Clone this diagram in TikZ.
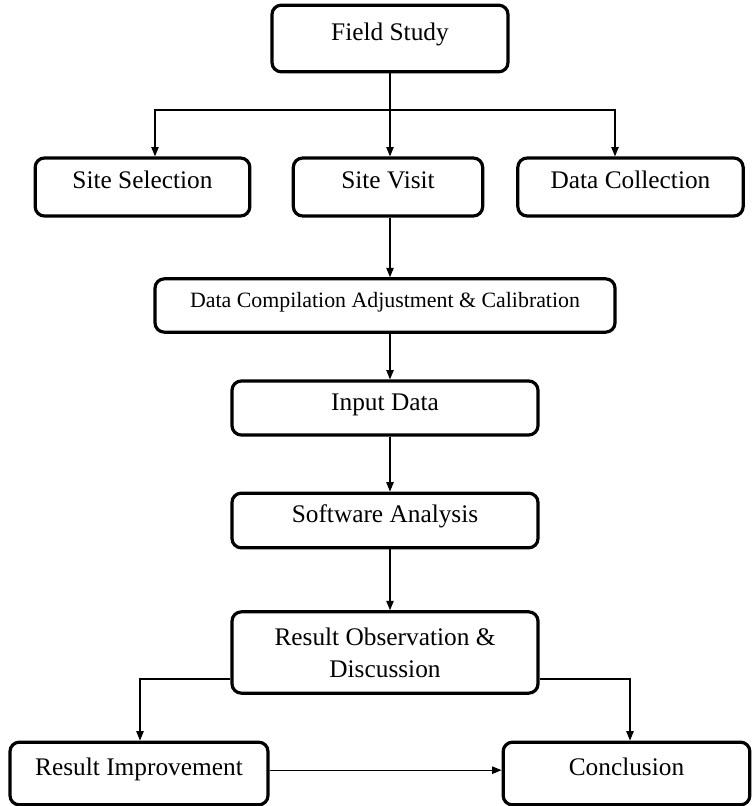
\documentclass[tikz,border=0pt]{standalone}
\usepackage{fontspec}
\setmainfont{Liberation Serif}
\usetikzlibrary{arrows.meta,calc}

\begin{document}
\begin{tikzpicture}[x=0.75pt,y=-0.75pt]

    \tikzset{
      stepbox/.style={
        draw,
        line width=2.4pt,
        rounded corners=7pt,
        inner sep=0pt,
        align=center,
        font=\fontsize{19}{24}\selectfont,
      },
      oneline/.style={
        text height=0.72em,
        text depth=0.42em,
      },
      arr/.style={
        line width=0.9pt,
        -{Triangle[length=7pt,width=5.5pt]},
      },
    }
    \useasboundingbox (0,0) rectangle (753,806);

    \node[stepbox,oneline,minimum width=177pt,minimum height=50pt] (study) at (390,38.5) {Field Study};
    \node[stepbox,oneline,minimum width=161pt,minimum height=43.5pt] (select) at (142.5,187) {Site Selection};
    \node[stepbox,oneline,minimum width=142pt,minimum height=43.5pt] (visit) at (388,187) {Site Visit};
    \node[stepbox,oneline,minimum width=169pt,minimum height=43.5pt] (collect) at (630.5,187) {Data Collection};
    \node[stepbox,oneline,minimum width=345pt,minimum height=40pt,font=\fontsize{16.4}{20}\selectfont] (compile) at (385,305.5) {Data Compilation Adjustment \& Calibration};
    \node[stepbox,oneline,minimum width=229.5pt,minimum height=40.5pt] (input) at (385,408) {Input Data};
    \node[stepbox,oneline,minimum width=229.5pt,minimum height=41pt] (soft) at (385,520.5) {Software Analysis};
    \node[stepbox,minimum width=229.5pt,minimum height=61pt] (result) at (385,652.5) {Result Observation \&\\Discussion};
    \node[stepbox,oneline,minimum width=193.5pt,minimum height=47pt] (improve) at (139,773.5) {Result Improvement};
    \node[stepbox,oneline,minimum width=185pt,minimum height=47pt] (concl) at (626.5,773.5) {Conclusion};

    % main spine and the three-way fork
    \coordinate (spine) at (390,0);
    \coordinate (fork) at (390,110);
    \draw[arr] (study.south -| spine) -- (visit.north -| spine);
    \draw[arr] (fork) -| ($(select.north)+(12.5,0)$);
    \draw[arr] (fork) -| ($(collect.north)+(-15.5,0)$);

    \draw[arr] (visit.south -| spine) -- (compile.north -| spine);
    \draw[arr] (compile.south -| spine) -- (input.north -| spine);
    \draw[arr] (input.south -| spine) -- (soft.north -| spine);
    \draw[arr] (soft.south -| spine) -- (result.north -| spine);

    % outcomes
    \draw[arr] ($(result.west)+(0,26.5)$) -| ($(improve.north)+(1,0)$);
    \draw[arr] ($(result.east)+(0,26.5)$) -| ($(concl.north)+(3.5,0)$);
    \draw[arr] ([yshift=2.5pt]improve.east) -- ([yshift=2.5pt]concl.west);

\end{tikzpicture}
\end{document}
